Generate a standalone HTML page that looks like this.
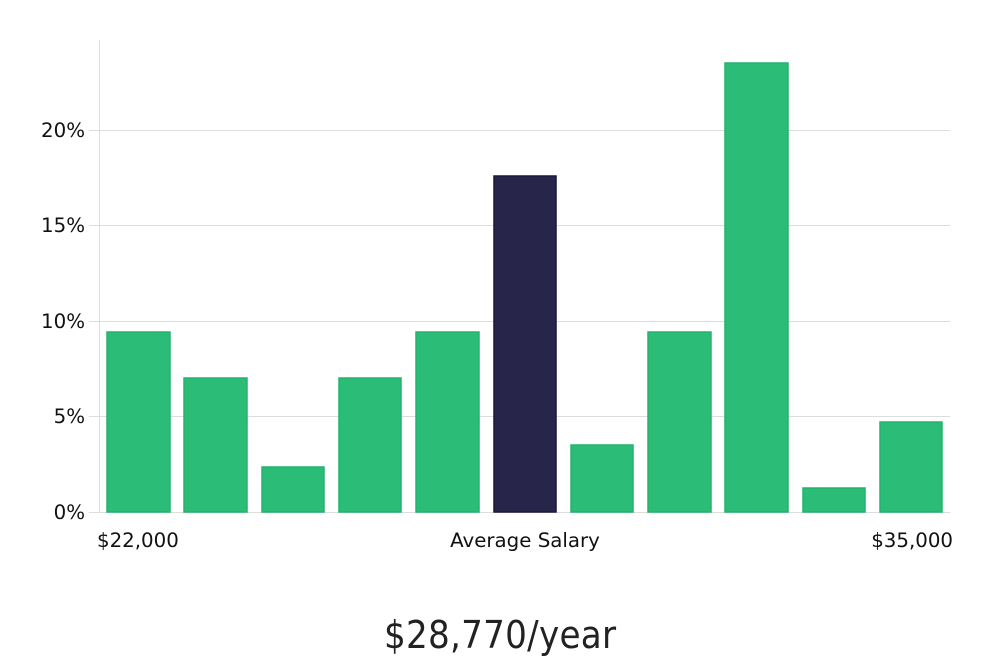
<!DOCTYPE html>
<html><head><style>body{margin:0;background:#fff}</style></head><body>
<svg width="1000" height="660" xmlns="http://www.w3.org/2000/svg" font-family="DejaVu Sans, sans-serif">
<g stroke="#ddd" stroke-width="1">
<line x1="89" y1="512.5" x2="950" y2="512.5"/>
<line x1="89" y1="416.5" x2="950" y2="416.5"/>
<line x1="89" y1="321.5" x2="950" y2="321.5"/>
<line x1="89" y1="225.5" x2="950" y2="225.5"/>
<line x1="89" y1="130.5" x2="950" y2="130.5"/>
<line x1="99.5" y1="40" x2="99.5" y2="512"/>
</g>
<g font-size="19.8" fill="#111" text-anchor="end">
<text x="85" y="519">0%</text>
<text x="85" y="423">5%</text>
<text x="85" y="328">10%</text>
<text x="85" y="232">15%</text>
<text x="85" y="137">20%</text>
</g>
<g fill="#2bbd77" stroke="#23b46e" stroke-width="1.5">
<rect x="107" y="332" width="63" height="180"/>
<rect x="184" y="378" width="63" height="134"/>
<rect x="262" y="467" width="62" height="45"/>
<rect x="339" y="378" width="62" height="134"/>
<rect x="416" y="332" width="63" height="180"/>
<rect x="494" y="176" width="62" height="336" fill="#28254a" stroke="#1a1838"/>
<rect x="571" y="445" width="62" height="67"/>
<rect x="648" y="332" width="63" height="180"/>
<rect x="725" y="63" width="63" height="449"/>
<rect x="803" y="488" width="62" height="24"/>
<rect x="880" y="422" width="62" height="90"/>
</g>
<g font-size="19.8" fill="#111">
<text x="97" y="547">$22,000</text>
<text x="525" y="547" text-anchor="middle">Average Salary</text>
<text x="953" y="547" text-anchor="end">$35,000</text>
</g>
<text x="500" y="648" text-anchor="middle" font-size="38" font-family="DejaVu Sans Condensed, Liberation Sans Narrow, sans-serif" font-weight="200" fill="#222" textLength="232">$28,770/year</text>
</svg>
</body></html>
